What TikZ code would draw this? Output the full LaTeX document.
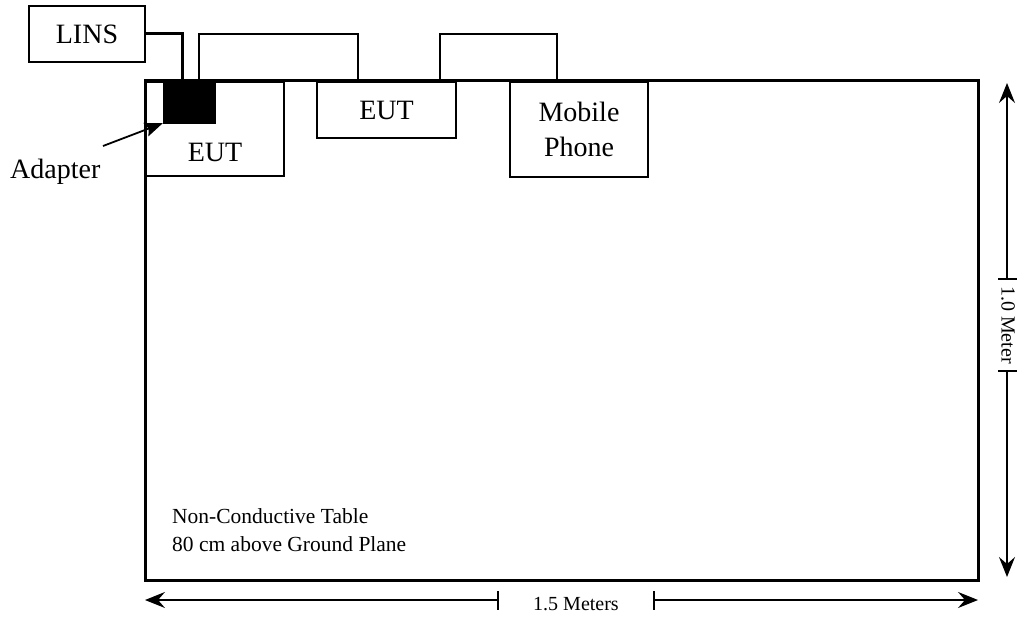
\documentclass[tikz,border=0pt]{standalone}
\usepackage{fontspec}
\setmainfont{Liberation Serif}
\usetikzlibrary{arrows.meta}
\begin{document}
\begin{tikzpicture}[x=1pt,y=-1pt,
  box/.style={draw,line width=1.3pt,inner sep=0pt,font=\fontsize{28}{35}\selectfont,align=center},
  lbl/.style={inner sep=0pt,font=\fontsize{28}{35}\selectfont,align=center},
  cable/.style={line width=2pt},
  thickcable/.style={line width=3pt},
  dim/.style={line width=1.2pt,-{Stealth[length=20pt,width=16pt,inset=7pt]}},
  dimtxt/.style={inner sep=0pt,font=\fontsize{20}{24}\selectfont},
  note/.style={inner sep=0pt,font=\fontsize{21.5}{28}\selectfont,align=left}]
\useasboundingbox (0,0) rectangle (1017,618);
% table
\node[draw,line width=3pt,minimum width=833pt,minimum height=500pt,inner sep=0pt] (table) at (561.5,330) {};
% boxes
\node[box,minimum width=116pt,minimum height=56pt] (lins) at (87,34) {LINS};
\node[box,minimum width=138pt,minimum height=94pt] (eut1) at (215,129) {};
\node[lbl] (eut1txt) at (215,152) {EUT};
\node[fill=black,draw=black,minimum width=52pt,minimum height=44pt,inner sep=0pt] (adapter) at (189,101) {};
\node[box,minimum width=139pt,minimum height=56pt] (eut2) at (386.5,110) {EUT};
\node[box,minimum width=138pt,minimum height=95pt] (phone) at (579,129.5) {Mobile\\Phone};
% cables
\coordinate (c1a) at (199,80);
\coordinate (c1b) at (358,80);
\coordinate (c2a) at (440,80);
\coordinate (c2b) at (557,80);
\draw[thickcable] (lins.east) -| ([xshift=-7pt]adapter.north);
\draw[cable] (c1a) |- (199,34) -| (c1b);
\draw[cable] (c2a) |- (440,34) -| (c2b);
% adapter label
\node[lbl,anchor=west] (adtxt) at (10,172) {Adapter};
\draw[line width=1.8pt,-{Stealth[length=18pt,width=14pt,inset=3pt]}] (103,146) -- (adapter.south west);
% notes
\node[note,anchor=north west] (notes) at (172,508) {Non-Conductive Table\\80 cm above Ground Plane};
% horizontal dimension
\coordinate (hl) at (145,600);
\coordinate (hr) at (978,600);
\coordinate (hb1) at (498,600);
\coordinate (hb2) at (654,600);
\draw[dim] (hb1) -- (hl);
\draw[dim] (hb2) -- (hr);
\draw[line width=1.2pt] (498,591) -- (498,610);
\draw[line width=1.2pt] (654,591) -- (654,610);
\node[dimtxt] (htxt) at (576,604) {1.5 Meters};
% vertical dimension
\coordinate (vt) at (1007,83);
\coordinate (vb) at (1007,577);
\coordinate (vb1) at (1007,279);
\coordinate (vb2) at (1007,371);
\draw[dim] (vb1) -- (vt);
\draw[dim] (vb2) -- (vb);
\draw[line width=1.2pt] (998,279) -- (1017,279);
\draw[line width=1.2pt] (998,371) -- (1017,371);
\node[dimtxt,rotate=-90] (vtxt) at (1008,325) {1.0 Meter};
\end{tikzpicture}
\end{document}
